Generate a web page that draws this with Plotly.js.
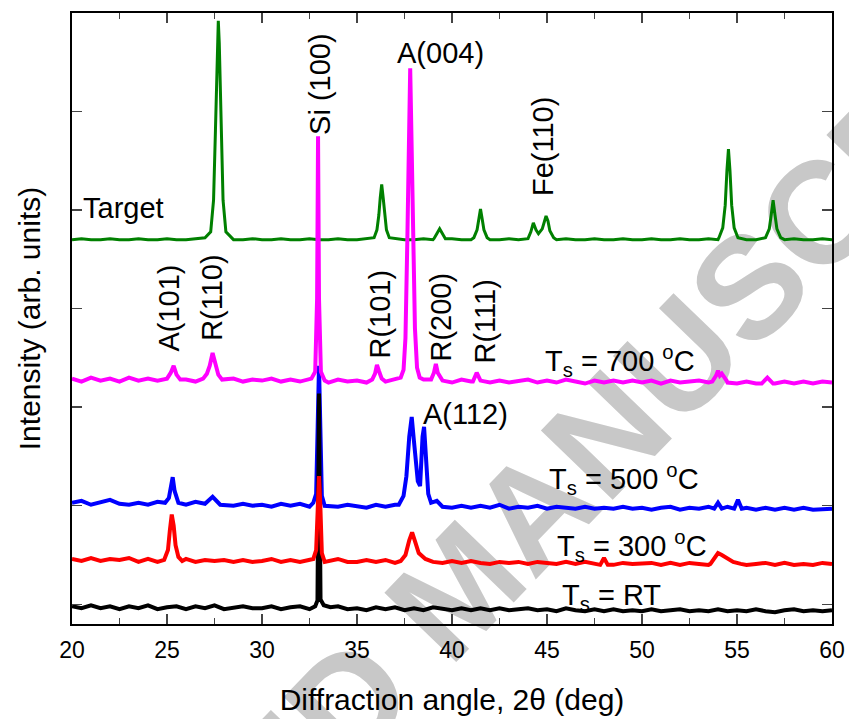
<!DOCTYPE html>
<html>
<head>
<meta charset="utf-8">
<script src="https://cdn.plot.ly/plotly-3.0.1.min.js"></script>
<style>html,body{margin:0;padding:0;background:#fff;}</style>
</head>
<body>
<div id="chart" style="width:849px;height:719px;"></div>
<script>
// ---- shared baseline grid (2θ, deg) ----
const angleGrid = [20,20.5,21,21.5,22,22.5,23,23.5,24,24.5,25,25.5,26,26.5,27,27.5,28,28.5,29,29.5,
  30,30.5,31,31.5,32,32.5,33,33.5,34,34.5,35,35.5,36,36.5,37,37.5,38,38.5,39,39.5,
  40,40.5,41,41.5,42,42.5,43,43.5,44,44.5,45,45.5,46,46.5,47,47.5,48,48.5,49,49.5,
  50,50.5,51,51.5,52,52.5,53,53.5,54,54.5,55,55.5,56,56.5,57,57.5,58,58.5,59,59.5,60];

// ---- baselines (arb. units, offset stacked) ----
const targetBase = [390,391,390,390,391,390,390,391,390,390, 391,390,390,391,390,390,391,390,390,391,
  390,390,391,390,390,391,390,390,391,390, 390,391,390,390,391,390,390,391,390,390,
  391,390,390,391,390,390,391,390,390,391, 390,390,391,390,390,391,390,390,391,390,
  390,391,390,390,391,390,390,391,390,390, 391,390,390,391,390,390,391,390,390,391, 390];
const t700Base = [249,246,250,247,249,246,250,247,249,247, 249,247,248,246,250,247,248,249,246,248,
  247,249,246,248,246,249,247,245,248,246, 247,245,248,246,248,247,245,248,246,247,
  245,248,246,248,245,247,245,247,248,245, 247,245,248,246,244,247,245,247,245,247,
  245,247,244,247,245,246,247,245,246,245, 244,246,244,246,244,246,244,246,244,246, 245];
const t500Base = [123,125,121,123,126,122,121,123,121,124, 122,123,121,124,121,122,121,120,122,120,
  121,119,122,120,122,119,121,120,119,121, 120,118,121,119,121,118,120,121,119,120,
  118,120,118,120,118,121,117,119,118,120, 117,119,118,117,119,117,118,117,119,117,
  118,116,118,119,116,118,117,119,117,119, 117,118,116,118,116,118,116,118,116,117, 117];
const t300Base = [66,64,67,64,66,65,67,63,66,63, 65,64,66,63,65,64,65,63,65,63,
  64,66,63,65,63,65,63,64,66,63, 63,65,63,65,62,64,63,64,63,62,
  64,62,64,62,61,63,62,63,61,63, 62,61,63,61,63,61,62,60,62,61,
  61,62,60,62,60,62,61,60,62,60, 62,60,61,62,60,62,60,61,60,62, 61];
const rtBase = [18,16,19,16,18,15,18,16,19,15, 17,18,15,18,16,19,15,17,18,16,
  16,18,15,17,18,15,17,15,18,15, 16,14,17,15,17,14,16,14,17,15,
  14,16,14,16,14,16,14,15,16,14, 15,13,16,14,13,15,13,15,13,14,
  13,15,13,14,15,13,14,13,15,13, 14,13,15,13,12,14,15,13,14,13, 14];

// ---- peaks: [x list, y list] per reflection ----
const targetPeaks = [
  [[27.0,27.3,27.45,27.55,27.6,27.65,27.7,27.75,27.8,27.85,27.95,28.1,28.4],[392,398,430,501,544,590,612,590,544,501,430,398,392]],
  [[35.9,36.05,36.15,36.22,36.3,36.38,36.45,36.55,36.7],[392,400,415,432,446,432,415,400,392]],
  [[39.05,39.2,39.35,39.5,39.65],[391,396,401,396,391]],
  [[41.15,41.32,41.42,41.5,41.58,41.68,41.85],[392,400,412,421,412,400,392]],
  [[44.0,44.15,44.28,44.42,44.55,44.75,44.87,44.95,45.05,45.15,45.35],[391,398,407,400,396,401,409,414,409,399,392]],
  [[54.05,54.25,54.38,54.47,54.55,54.63,54.72,54.85,55.05],[392,402,425,460,482,460,425,402,392]],
  [[56.5,56.7,56.8,56.9,57.0,57.1,57.3],[392,401,415,430,415,401,392]]
];
const t700Peaks = [
  [[25.0,25.2,25.35,25.5,25.7],[249,255,262,253,248]],
  [[26.9,27.1,27.25,27.4,27.55,27.7,27.9],[249,254,262,275,263,253,248]],
  [[32.6,32.8,32.9,32.95,33.0,33.1,33.3],[249,256,330,495,330,256,247]],
  [[35.8,35.95,36.05,36.15,36.3],[248,254,263,257,249]],
  [[37.3,37.45,37.55,37.65,37.72,37.8,37.88,37.95,38.05,38.16,38.3],[250,258,290,390,480,564,480,390,300,260,250]],
  [[38.9,39.05,39.15,39.25,39.45],[248,255,264,255,248]],
  [[41.1,41.3,41.5],[246,255,247]],
  [[53.7,53.9,54.0,54.1,54.2,54.45],[246,252,257,252,254,247]],
  [[56.3,56.6,56.9],[244,250,244]]
];
const t500Peaks = [
  [[24.9,25.1,25.2,25.3,25.4,25.6],[123,128,138,149,135,123]],
  [[27.0,27.4,27.8],[122,129,121]],
  [[32.7,32.85,32.93,33.0,33.07,33.15,33.3],[123,132,200,262,200,130,120]],
  [[37.2,37.45,37.6,37.75,37.88,38.0,38.2,38.32,38.45,38.53,38.62,38.75,38.9,39.2,39.5],[121,130,150,190,210,185,145,140,190,200,170,132,123,125,119]],
  [[53.8,54.0,54.2],[117,123,117]],
  [[54.85,55.05,55.25],[117,126,117]]
];
const t300Peaks = [
  [[24.85,25.05,25.15,25.25,25.35,25.45,25.6,25.8],[65,75,95,111,100,80,68,64]],
  [[32.7,32.85,32.93,33.0,33.07,33.15,33.3],[66,75,120,150,120,72,63]],
  [[37.3,37.55,37.75,37.9,38.05,38.25,38.6,39.0],[64,70,85,93,84,72,66,63]],
  [[47.8,48.0,48.2],[60,67,60]],
  [[53.6,53.85,54.0,54.2,54.5,54.8,55.2],[61,68,72,70,66,63,61]]
];
const rtPeaks = [
  [[32.8,32.92,32.97,33.0,33.03,33.08,33.25,33.6],[18,24,150,234,150,25,19,17]]
];

// ---- labels ----
const sampleNames = ["Target","T<sub>s</sub> = 700 <sup>o</sup>C","T<sub>s</sub> = 500 <sup>o</sup>C","T<sub>s</sub> = 300 <sup>o</sup>C","T<sub>s</sub> = RT"];
const xTickVals = [20,25,30,35,40,45,50,55,60];

function buildSeries(base, peaks){
  const pts = [];
  for (let i=0;i<angleGrid.length;i++){
    const x = angleGrid[i];
    const inside = peaks.some(p => x >= p[0][0] && x <= p[0][p[0].length-1]);
    if (!inside) pts.push([x, base[i]]);
  }
  peaks.forEach(p => p[0].forEach((x,j) => pts.push([x, p[1][j]])));
  pts.sort((a,b)=>a[0]-b[0]);
  return {x: pts.map(p=>p[0]), y: pts.map(p=>p[1])};
}

const F = "Liberation Sans, Arial, sans-serif";
function tr(base, peaks, color, w){
  const s = buildSeries(base, peaks);
  return {x:s.x, y:s.y, mode:'lines', line:{color:color, width:w}, hoverinfo:'skip', showlegend:false};
}
const traces = [
  tr(targetBase, targetPeaks, '#008000', 3),
  tr(t500Base, t500Peaks, '#0000ff', 4),
  tr(rtBase, rtPeaks, '#000000', 4),
  tr(t300Base, t300Peaks, '#ff0000', 4),
  tr(t700Base, t700Peaks, '#ff00ff', 4)
];

function lab(text, x, y, angle, opts){
  return Object.assign({text:text, x:x, y:y, xref:'x', yref:'y', showarrow:false,
    textangle:angle||0, font:{family:F, size:29, color:'#000'}}, opts||{});
}
const annotations = [
  {text:'ACCEPTED MANUSCRIPT', xref:'paper', yref:'paper', x:0.508, y:0.059,
   xanchor:'center', yanchor:'middle', showarrow:false,
   textangle:-46, font:{family:F, size:145, color:'#c8c8c8', weight:'bold'}},
  lab('Si (100)', 33.05, 548, -90),
  lab('A(004)', 39.42, 579, 0),
  lab('Fe(110)', 44.79, 484, -90),
  lab('A(101)', 25.1, 321, -90),
  lab('R(110)', 27.37, 331, -90),
  lab('R(101)', 36.21, 315, -90),
  lab('R(200)', 39.37, 311, -90),
  lab('R(111)', 41.74, 307, -90),
  lab(sampleNames[0], 20.45, 422, 0, {xanchor:'left'}),
  lab(sampleNames[1], 20+(543-72)/19, 267, 0, {xanchor:'left'}),
  lab('A(112)', 38.37, 213, 0, {xanchor:'left'}),
  lab(sampleNames[2], 20+(547-72)/19, 147, 0, {xanchor:'left'}),
  lab(sampleNames[3], 20+(555-72)/19, 79, 0, {xanchor:'left'}),
  lab(sampleNames[4], 20+(560-72)/19, 27, 0, {xanchor:'left'})
];

const layout = {
  width:849, height:719,
  margin:{l:72, r:17, t:13, b:95},
  paper_bgcolor:'#fff', plot_bgcolor:'rgba(0,0,0,0)',
  font:{family:F, color:'#000'},
  xaxis:{range:[20,60], tickvals:xTickVals, ticks:'inside', ticklen:10, tickwidth:1.5,
    showline:true, linewidth:2, linecolor:'#000', mirror:'ticks', showgrid:false, zeroline:false,
    tickfont:{family:F, size:23}, ticklabelstandoff:4,
    minor:{dtick:2.5, ticks:'inside', ticklen:6, tickwidth:1.5},
    title:{text:'Diffraction angle, 2θ (deg)', font:{family:F, size:30}, standoff:27}},
  yaxis:{range:[0,620], tick0:20, dtick:100, ticks:'inside', ticklen:10, tickwidth:1.5,
    showticklabels:false, showline:true, linewidth:2, linecolor:'#000', mirror:'ticks',
    showgrid:false, zeroline:false,
    title:{text:'Intensity (arb. units)', font:{family:F, size:30}, standoff:21}},
  annotations: annotations
};

Plotly.newPlot('chart', traces, layout, {staticPlot:true}).then(function(){
  try {
    const gd = document.getElementById('chart');
    const anns = gd.querySelectorAll('.annotation');
    let wm = null;
    anns.forEach(a => { if (a.textContent.indexOf('ACCEPTED') >= 0) wm = a; });
    const mainSvg = gd.querySelector('.main-svg');
    const cart = mainSvg.querySelector('.cartesianlayer');
    if (wm && cart) mainSvg.insertBefore(wm, cart);
  } catch(e) {}
});
</script>
</body>
</html>
